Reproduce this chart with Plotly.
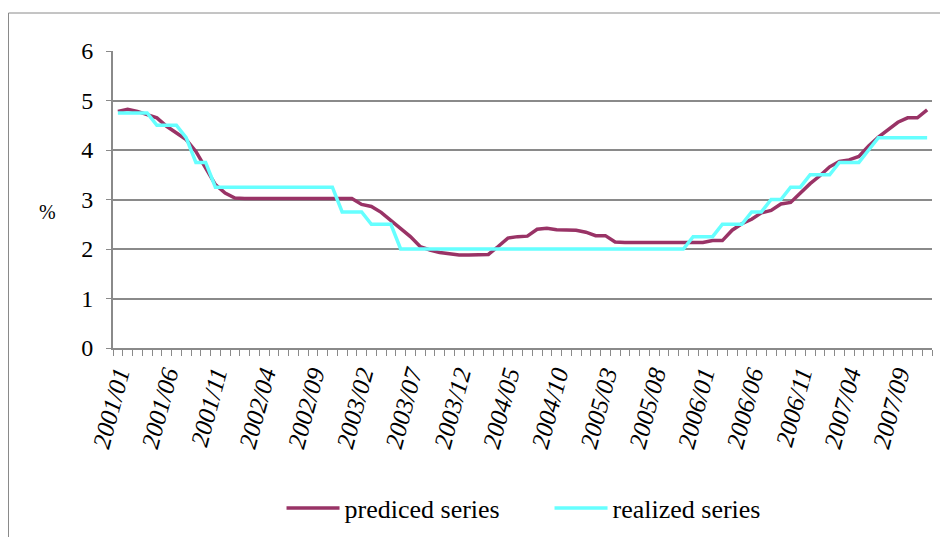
import plotly.graph_objects as go

months = [f"{y}/{m:02d}" for y in range(2001, 2008) for m in range(1, 13)]

predicted = [4.78, 4.82, 4.78, 4.72, 4.65, 4.48, 4.35, 4.21, 3.97, 3.65,
             3.30, 3.13, 3.03, 3.02, 3.02, 3.02, 3.02, 3.02, 3.02, 3.02,
             3.02, 3.02, 3.02, 3.02, 3.02, 2.90, 2.86, 2.74, 2.58, 2.42,
             2.25, 2.05, 1.98, 1.93, 1.91, 1.88, 1.88, 1.88, 1.89, 2.05,
             2.22, 2.25, 2.26, 2.40, 2.42, 2.39, 2.38, 2.38, 2.34, 2.27,
             2.27, 2.14, 2.13, 2.13, 2.13, 2.13, 2.13, 2.13, 2.13, 2.13,
             2.13, 2.17, 2.17, 2.38, 2.51, 2.60, 2.73, 2.78, 2.91, 2.94,
             3.13, 3.32, 3.48, 3.66, 3.77, 3.80, 3.87, 4.08, 4.26, 4.42,
             4.56, 4.65, 4.65, 4.81]

realized = ([4.75] * 4 + [4.5] * 3 + [4.25] + [3.75] * 2 + [3.25] * 13 +
            [2.75] * 3 + [2.5] * 3 + [2.0] * 30 + [2.25] * 3 + [2.5] * 3 +
            [2.75] * 2 + [3.0] * 2 + [3.25] * 2 + [3.5] * 3 + [3.75] * 3 +
            [4.0] + [4.25] * 6)

tick_step = 5
tick_idx = list(range(0, len(months), tick_step))
tick_text = [months[i] for i in tick_idx]
y_ticks = [0, 1, 2, 3, 4, 5, 6]

x_idx = list(range(len(months)))
FONT = "Times New Roman"
GRAY = "#8a8a8a"

# plot area in figure pixels
L, T, R, B = 105, 43, 924, 340
W, H = 948, 537
pw, ph = R - L, B - T

def px(x):
    return (x - L) / pw

def py(y):
    return (B - y) / ph

fig = go.Figure()
fig.add_trace(go.Scatter(x=x_idx, y=predicted, mode="lines", name="prediced series",
                         line=dict(color="#993366", width=3.5)))
fig.add_trace(go.Scatter(x=x_idx, y=realized, mode="lines", name="realized series",
                         line=dict(color="#66FFFF", width=3.5)))

fig.update_layout(
    template="none",
    width=W, height=H,
    margin=dict(l=L, r=W - R, t=T, b=H - B, autoexpand=False),
    paper_bgcolor="white", plot_bgcolor="white",
    font=dict(family=FONT, color="black", size=20),
    showlegend=True,
    legend=dict(orientation="h", x=0.533, xanchor="center", y=py(500), yanchor="middle",
                font=dict(family=FONT, size=26), itemwidth=53, entrywidth=200,
                bgcolor="rgba(0,0,0,0)"),
    xaxis=dict(range=[-0.5, len(months) - 0.5], tickmode="array", tickvals=tick_idx,
               ticktext=tick_text, tickangle=-75, ticks="", showgrid=False,
               automargin=False,
               showline=True, linecolor=GRAY, linewidth=2, zeroline=False,
               tickfont=dict(family=FONT, size=25, style="italic"),
               minor=dict(ticks="outside", tick0=-0.5, dtick=1, ticklen=6,
                          tickcolor=GRAY, tickwidth=1, showgrid=False)),
    yaxis=dict(range=[0, 6], tickmode="array", tickvals=y_ticks, ticks="outside",
               automargin=False,
               ticklen=5, tickcolor=GRAY, showgrid=True, gridcolor=GRAY, gridwidth=1.5,
               showline=True, linecolor=GRAY, linewidth=2, zeroline=False,
               tickfont=dict(family=FONT, size=24), ticklabelstandoff=8),
    shapes=[dict(type="rect", xref="paper", yref="paper", x0=px(0.5), x1=px(W + 20),
                 y0=py(H + 20), y1=py(5), line=dict(color=GRAY, width=1), layer="below")],
    annotations=[dict(text="%", xref="paper", yref="paper", x=px(39),
                      y=py(204), showarrow=False, xanchor="center",
                      yanchor="middle", font=dict(family=FONT, size=20))],
)

fig.write_html("out.html")
